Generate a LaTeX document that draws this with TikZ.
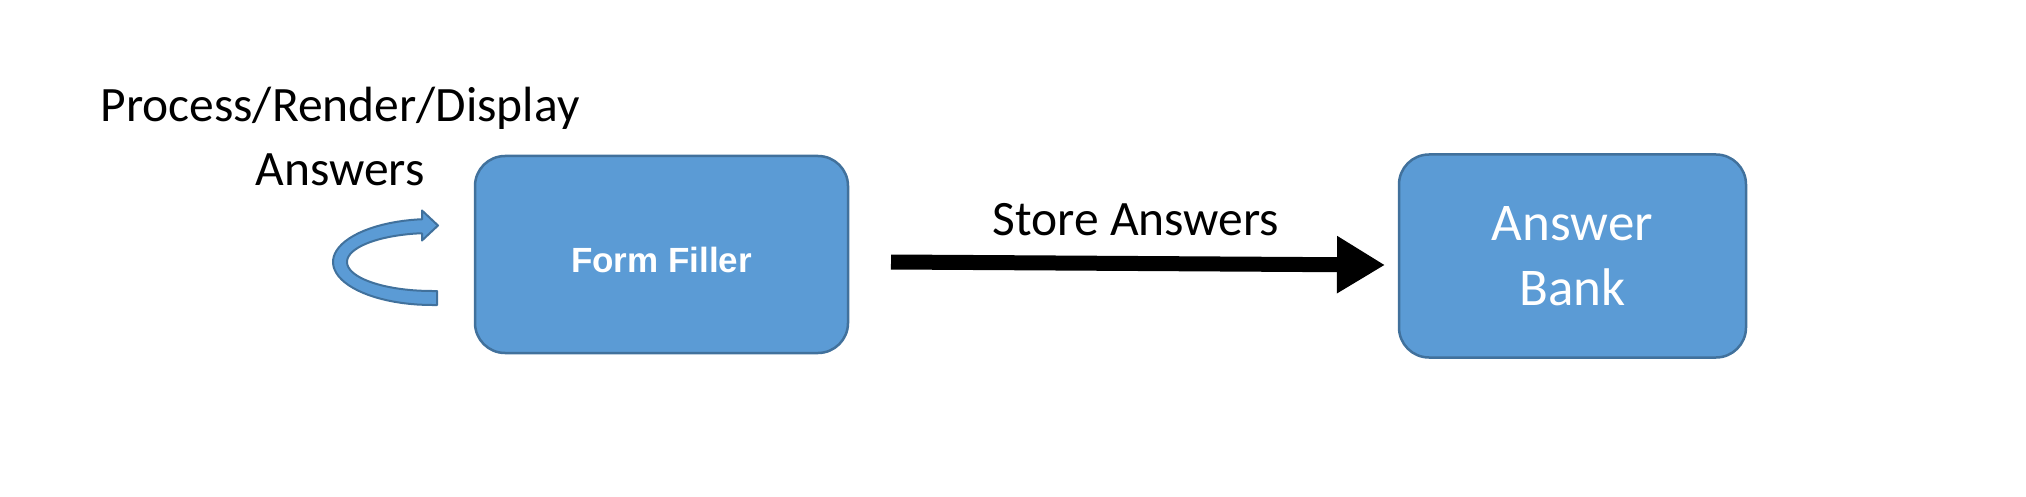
\documentclass[tikz,border=0pt]{standalone}
\usepackage{fontspec}
\setmainfont{Carlito}
\newfontfamily\arialfont{Liberation Sans}
\usetikzlibrary{arrows.meta}
\definecolor{boxfill}{HTML}{5B9BD5}
\definecolor{boxline}{HTML}{41719C}
\begin{document}
\begin{tikzpicture}[x=1pt,y=-1pt,
  box/.style={draw=boxline, fill=boxfill, line width=2.5pt, rounded corners=30pt,
    inner sep=0pt, text=white, align=center},
  lbl/.style={inner sep=0pt, align=center, font=\fontsize{49.5}{64.5}\selectfont},
  bigarrow/.style={line width=15pt, -{Triangle[length=48pt, width=54pt]}},
  loopshape/.style={fill=boxfill, draw=boxline, line width=2pt, line join=round}]
\useasboundingbox (0,0) rectangle (2026,497);
\node[box, minimum width=373pt, minimum height=197pt, text height=36pt, text depth=0pt,
  font=\arialfont\bfseries\fontsize{35}{42}\selectfont] (ff) at (661.5,254.5) {Form Filler};
\node[box, minimum width=347pt, minimum height=203pt,
  font=\fontsize{53}{65}\selectfont] (ab) at (1572.5,256) {Answer\\Bank};
\node[lbl, anchor=base] (proc) at (340,186) {Process/Render/Display\\Answers};
\node[lbl, anchor=base] (store) at (1136,236) {Store Answers};
\coordinate (as) at (891,262);
\coordinate (ae) at (1385,265);
\draw[bigarrow] (as) -- (ae);
\path[loopshape] (437,305) -- (432,305)
  -- plot[domain=90:262, samples=40] ({432+99*cos(\x)},{262+43*sin(\x)})
  -- (422,219.4) -- (422,210.5) -- (438,225.5) -- (422,240.5) -- (422,233.3)
  -- plot[domain=262:90, samples=40] ({432+85*cos(\x)},{262+29*sin(\x)})
  -- (437,291) -- cycle;
\end{tikzpicture}
\end{document}
